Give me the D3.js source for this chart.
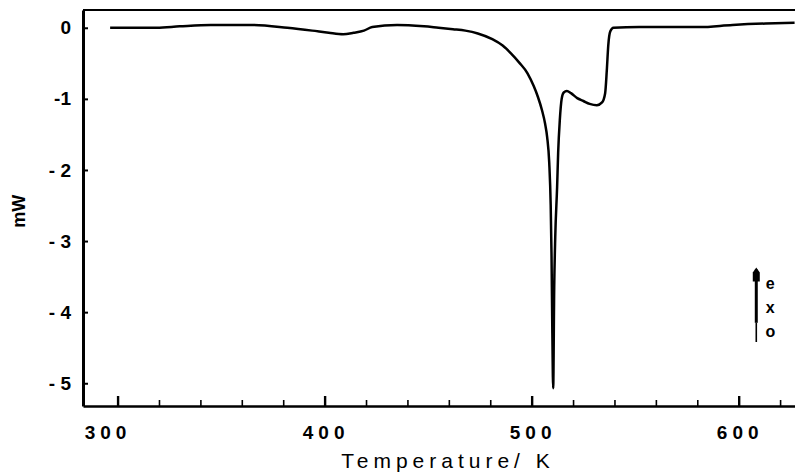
<!DOCTYPE html>
<html>
<head>
<meta charset="utf-8">
<script src="https://cdn.jsdelivr.net/npm/d3@7"></script>
<style>
  html, body { margin: 0; padding: 0; background: #fff; }
  svg { display: block; }
  text { font-family: "Liberation Sans", Arial, sans-serif; fill: #000; }
</style>
</head>
<body>
<svg id="chart" width="795" height="472"></svg>
<script>
// DSC trace: heat flow (mW) against temperature (K)
const temperature = [
  296.4, 310, 319, 330, 345, 365, 382, 394, 402, 409, 414, 419, 423, 435, 448,
  455, 462, 468, 474, 481, 486, 490, 494, 498, 501, 503, 505, 506.5, 507.5, 508.5,
  509.2, 509.6, 510.0, 510.4, 510.9, 511.4, 512.3, 512.8, 513.6, 514.5, 515.5,
  517, 519, 522, 525, 528, 531.5, 534, 535.5, 536.3, 537, 538, 539.5, 552, 565,
  581, 597, 613, 627
];
const heatFlow = [
  0.00, 0.00, 0.00, 0.02, 0.04, 0.04, 0.00, -0.04, -0.07, -0.09, -0.07, -0.04, 0.01, 0.04, 0.02,
  0.00, -0.02, -0.04, -0.08, -0.16, -0.25, -0.36, -0.49, -0.64, -0.82, -0.97, -1.16, -1.35, -1.54, -1.90,
  -2.5, -3.2, -4.3, -5.07, -3.65, -2.94, -2.24, -1.76, -1.30, -1.00, -0.91,
  -0.89, -0.92, -0.99, -1.03, -1.07, -1.09, -1.05, -0.92, -0.60, -0.25, -0.05, 0.00, 0.01, 0.01,
  0.01, 0.04, 0.06, 0.07
];
const xMajorTicks = [300, 400, 500, 600];
const xMinorTicks = [320, 340, 360, 380, 420, 440, 460, 480, 520, 540, 560, 580, 620];
const yTicks = [0, -1, -2, -3, -4, -5];
const yTickLabels = ["0", "-1", "- 2", "- 3", "- 4", "- 5"];
const exoLetters = ["e", "x", "o"];

const W = 795, H = 472;
const margin = { top: 10, right: 0, bottom: 66, left: 83 };

const svg = d3.select("#chart");

const x = d3.scaleLinear().domain([283.3, 627.2]).range([margin.left, W - margin.right]);
const y = d3.scaleLinear().domain([-5.32, 0.25]).range([H - margin.bottom, margin.top]);

// frame: top rule (left and bottom come from the axes)
svg.append("line")
  .attr("x1", margin.left).attr("x2", W)
  .attr("y1", margin.top).attr("y2", margin.top)
  .attr("stroke", "#000").attr("stroke-width", 2.2);

// x axis with inward ticks
const xAxisMajor = d3.axisBottom(x).tickValues(xMajorTicks).tickSizeInner(-10).tickSizeOuter(0)
  .tickPadding(20).tickFormat(d3.format("d"));
const gx = svg.append("g")
  .attr("transform", `translate(0,${H - margin.bottom})`)
  .call(xAxisMajor);
gx.select(".domain").attr("stroke", "#000").attr("stroke-width", 2.4);
gx.selectAll(".tick line").attr("stroke", "#000").attr("stroke-width", 2.4);
gx.selectAll(".tick text")
  .attr("font-size", 19).attr("font-weight", "bold")
  .attr("letter-spacing", "5px")
  .attr("dx", d => d === 300 ? "-10px" : "1px");

const xAxisMinor = d3.axisBottom(x).tickValues(xMinorTicks).tickSizeInner(-6).tickSizeOuter(0)
  .tickFormat("");
const gxm = svg.append("g")
  .attr("transform", `translate(0,${H - margin.bottom})`)
  .call(xAxisMinor);
gxm.select(".domain").remove();
gxm.selectAll(".tick line").attr("stroke", "#000").attr("stroke-width", 1.6);

// y axis with short inward ticks
const yAxis = d3.axisLeft(y).tickValues(yTicks).tickSizeInner(-5).tickSizeOuter(0)
  .tickPadding(12).tickFormat((d, i) => yTickLabels[i]);
const gy = svg.append("g")
  .attr("transform", `translate(${margin.left},0)`)
  .call(yAxis);
gy.select(".domain").attr("stroke", "#000").attr("stroke-width", 3);
gy.selectAll(".tick line").attr("stroke", "#000").attr("stroke-width", 2);
gy.selectAll(".tick text")
  .attr("font-size", 19).attr("font-weight", "bold");

// axis titles
svg.append("text")
  .attr("x", 448).attr("y", 468)
  .attr("text-anchor", "middle")
  .attr("font-size", 21).attr("letter-spacing", "5px")
  .text("Temperature/ K");

svg.append("text")
  .attr("transform", `translate(25,${y(-2.58)}) rotate(-90)`)
  .attr("text-anchor", "middle")
  .attr("font-size", 18).attr("font-weight", "bold")
  .text("mW");

// trace
const pts = temperature.map((t, i) => [t, heatFlow[i]]);
const line = d3.line().x(d => x(d[0])).y(d => y(d[1])).curve(d3.curveMonotoneX);
svg.append("path")
  .datum(pts)
  .attr("d", line)
  .attr("fill", "none")
  .attr("stroke", "#000")
  .attr("stroke-width", 2.5)
  .attr("stroke-linejoin", "round");

// exo direction marker
const ax = x(608.5), aTop = y(-3.4), aMid = y(-4.15), aBot = y(-4.42);
const exo = svg.append("g");
exo.append("line").attr("x1", ax).attr("x2", ax).attr("y1", aTop).attr("y2", aMid)
  .attr("stroke", "#000").attr("stroke-width", 3);
exo.append("line").attr("x1", ax).attr("x2", ax).attr("y1", aMid).attr("y2", aBot)
  .attr("stroke", "#000").attr("stroke-width", 1.6);
exo.append("path")
  .attr("d", `M${ax - 3.5},${aTop + 12} L${ax - 3.5},${aTop + 3} L${ax},${aTop - 2} L${ax + 3.5},${aTop + 3} L${ax + 3.5},${aTop + 12} Z`)
  .attr("fill", "#000");
exo.selectAll("text.exo")
  .data(exoLetters)
  .join("text")
  .attr("class", "exo")
  .attr("x", ax + 14)
  .attr("y", (d, i) => y(-3.6 - i * 0.34) + 5)
  .attr("text-anchor", "middle")
  .attr("font-size", 16).attr("font-weight", "bold")
  .text(d => d);
</script>
</body>
</html>
